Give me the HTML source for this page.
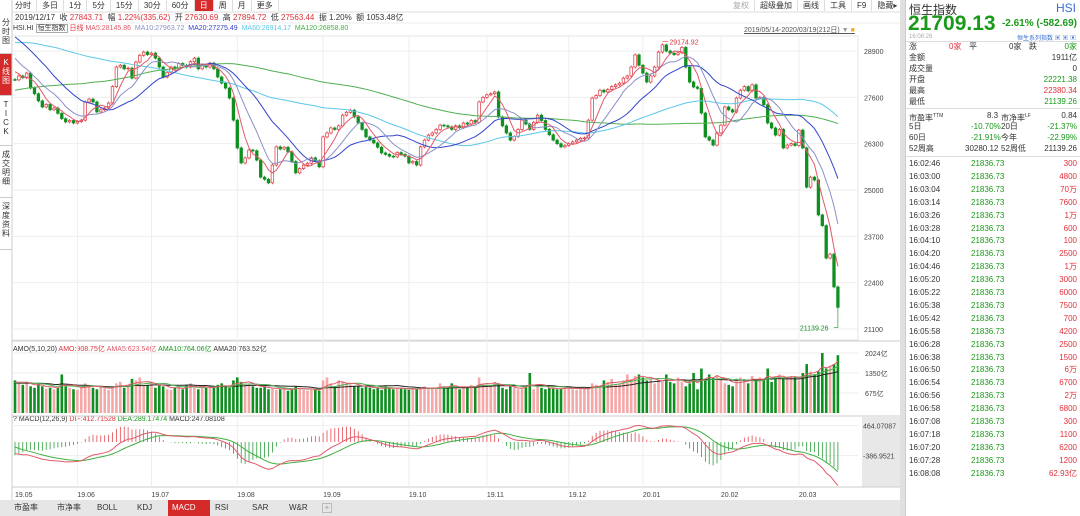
<!DOCTYPE html>
<html><head><meta charset="utf-8">
<style>
*{margin:0;padding:0;box-sizing:border-box}
body{width:1080px;height:516px;overflow:hidden;background:#fff;font-family:"Liberation Sans","Noto Sans CJK SC",sans-serif;font-size:8px;color:#333;position:relative}
.abs{position:absolute;white-space:nowrap}
.tb span{display:inline-block;padding:0 5px;line-height:11px;border-right:1px solid #ddd}
#rp{position:absolute;left:905px;top:0;width:175px;height:516px;background:#fff;border-left:1px solid #ccc}
.row{position:absolute;left:3px;right:3px;height:12px;line-height:12px;font-size:8px}
.g{color:#1a9a1a}.r{color:#e0303a}
.side div{position:absolute;left:0;width:12px;font-size:8px;line-height:9px;text-align:center;border-bottom:1px solid #ccc}
</style></head><body>
<div class="abs tb" style="left:10px;top:0;height:12px;font-size:8px">
<span>分时</span><span>多日</span><span>1分</span><span>5分</span><span>15分</span><span>30分</span><span>60分</span><span style="background:#d42a2a;color:#fff">日</span><span>周</span><span>月</span><span>更多</span></div>
<div class="abs tb" style="left:728px;top:0;font-size:8px">
<span style="color:#aaa">复权</span><span>超级叠加</span><span>画线</span><span>工具</span><span>F9</span><span>隐藏▸</span></div>
<div class="abs" style="left:15px;top:13px;font-size:8px;line-height:10px">2019/12/17 &nbsp;收 <span class="r">27843.71</span> &nbsp;幅 <span class="r">1.22%(335.62)</span> &nbsp;开 <span class="r">27630.69</span> &nbsp;高 <span class="r">27894.72</span> &nbsp;低 <span class="r">27563.44</span> &nbsp;振 1.20% &nbsp;额 1053.48亿</div>
<div class="abs" style="left:13px;top:24px;font-size:7px;line-height:9px">HSI.HI <span style="border:1px solid #aaa;padding:0 1px">恒生指数</span> <span class="r">日线</span> <span style="color:#e05a6a">MA5:28145.86</span> &nbsp;<span style="color:#8890c8">MA10:27963.72</span> &nbsp;<span style="color:#3344cc">MA20:27275.49</span> &nbsp;<span style="color:#5bc8e8">MA60:26914.17</span> &nbsp;<span style="color:#40b040">MA120:26858.80</span></div>
<div class="abs" style="left:744px;top:25px;font-size:7px;text-decoration:underline;color:#555">2019/05/14-2020/03/19(212日) <span style="color:#999">▼</span> <span style="color:#f0b020">■</span></div>
<div class="abs" style="left:13px;top:344px;font-size:7px">AMO(5,10,20) <span class="r">AMO:908.75亿</span> <span style="color:#e05a6a">AMA5:623.54亿</span> <span class="g">AMA10:764.06亿</span> AMA20:763.52亿</div>
<div class="abs" style="left:13px;top:416px;font-size:7px">? MACD(12,26,9) <span class="r">DIF:412.71528</span> <span class="g">DEA:289.17474</span> MACD:247.08108</div>

<div class="side">
<div style="top:14px;height:40px;padding-top:4px">分<br>时<br>图</div>
<div style="top:54px;height:42px;background:#d42a2a;color:#fff;padding-top:4px">K<br>线<br>图</div>
<div style="top:96px;height:50px;padding-top:4px">T<br>I<br>C<br>K</div>
<div style="top:146px;height:52px;padding-top:4px">成<br>交<br>明<br>细</div>
<div style="top:198px;height:52px;padding-top:4px">深<br>度<br>资<br>料</div>
</div>

<svg id="ch" style="position:absolute;left:0;top:0" width="905" height="516"></svg>

<div class="abs" style="left:0;top:500px;width:900px;height:16px;background:#e6e6e6;font-size:8px;line-height:16px">
<span class="abs" style="left:14px">市盈率</span>
<span class="abs" style="left:57px">市净率</span>
<span class="abs" style="left:97px">BOLL</span>
<span class="abs" style="left:137px">KDJ</span>
<span class="abs" style="left:168px;width:42px;background:#d42a2a;color:#fff;padding-left:4px">MACD</span>
<span class="abs" style="left:215px">RSI</span>
<span class="abs" style="left:252px">SAR</span>
<span class="abs" style="left:289px">W&amp;R</span>
<span class="abs" style="left:322px;top:3px;width:10px;height:10px;border:1px solid #bbb;line-height:8px;text-align:center;color:#999">+</span>
</div>

<div id="rp">
<div class="abs" style="left:3px;top:1px;font-size:12px">恒生指数</div>
<div class="abs" style="right:4px;top:1px;font-size:12px;color:#3a6fd0">HSI</div>
<div class="abs g" style="left:2px;top:12px;font-size:21px;font-weight:bold">21709.13</div>
<div class="abs g" style="right:3px;top:18px;font-size:10px;font-weight:bold">-2.61% (-582.69)</div>
<div class="abs" style="left:3px;top:34px;font-size:6px;color:#aaa">16:08:26</div>
<div class="abs" style="right:4px;top:33px;font-size:6px;color:#3a6fd0">恒生系列指数 ▣ ▣ ▣</div>
<div style="position:absolute;left:0;right:0;top:41px;height:1px;background:#ddd"></div>
<div class="row" style="top:41px"><span>涨</span><span class="abs r" style="left:40px">0家</span><span class="abs" style="left:60px">平</span><span class="abs" style="left:100px">0家</span><span class="abs" style="left:120px">跌</span><span class="abs g" style="right:0">0家</span></div>
<div class="row" style="top:52px">金额<span class="abs" style="right:0">1911亿</span></div>
<div class="row" style="top:63px">成交量<span class="abs" style="right:0">0</span></div>
<div class="row" style="top:74px">开盘<span class="abs g" style="right:0">22221.38</span></div>
<div class="row" style="top:85px">最高<span class="abs r" style="right:0">22380.34</span></div>
<div class="row" style="top:96px">最低<span class="abs g" style="right:0">21139.26</span></div>
<div style="position:absolute;left:0;right:0;top:108px;height:1px;background:#ddd"></div>
<div class="row" style="top:110px">市盈率<sup style="font-size:5px">TTM</sup><span class="abs" style="left:78px">8.3</span><span class="abs" style="left:92px">市净率<sup style="font-size:5px">LF</sup></span><span class="abs" style="right:0">0.84</span></div>
<div class="row" style="top:121px">5日<span class="abs g" style="left:62px">-10.70%</span><span class="abs" style="left:92px">20日</span><span class="abs g" style="right:0">-21.37%</span></div>
<div class="row" style="top:132px">60日<span class="abs g" style="left:62px">-21.91%</span><span class="abs" style="left:92px">今年</span><span class="abs g" style="right:0">-22.99%</span></div>
<div class="row" style="top:143px">52周高<span class="abs" style="left:56px">30280.12</span><span class="abs" style="left:92px">52周低</span><span class="abs" style="right:0">21139.26</span></div>
<div style="position:absolute;left:0;right:0;top:156px;height:1px;background:#ddd"></div>
<div id="ticks"></div>
</div>

<script>
const tickTimes=["16:02:46","16:03:00","16:03:04","16:03:14","16:03:26","16:03:28","16:04:10","16:04:20","16:04:46","16:05:20","16:05:22","16:05:38","16:05:42","16:05:58","16:06:28","16:06:38","16:06:50","16:06:54","16:06:56","16:06:58","16:07:08","16:07:18","16:07:20","16:07:28","16:08:08"];
const tickVols=["300","4800","70万","7600","1万","600","100","2500","1万","3000","6000","7500","700","4200","2500","1500","6万","6700","2万","6800","300","1100","6200","1200","62.93亿"];
const tp=document.getElementById('ticks');
tickTimes.forEach((t,k)=>{
 const d=document.createElement('div');d.className='row';d.style.top=(158+k*12.9)+'px';
 
 
 d.innerHTML=t+'<span class="abs g" style="left:62px">21836.73</span><span class="abs r" style="right:0">'+tickVols[k]+'</span>';
 tp.appendChild(d);
});
</script>
<script>
const priorCloses=[26000,26100,25900,26200,26300,26100,25950,26050,26200,26300,
26150,26000,25900,26050,26100,26250,26300,26150,26000,25850,
25900,26000,26100,25800,25700,25900,26050,26100,25950,25850,
25600,25300,25100,25500,25800,26100,26300,26500,26700,26600,
26400,26600,26800,27000,26900,27100,27300,27200,27000,27100,
27300,27500,27600,27400,27300,27500,27700,27900,27800,27950,
28000,28100,28200,28400,28300,28500,28600,28800,28700,28600,
28500,28700,28900,29000,28800,28700,28600,28900,29100,29000,
28800,28600,28500,28700,28900,29100,29200,29300,29500,29400,
29600,29700,29800,29900,29800,29700,29900,30000,29900,29800,
29700,29900,30100,30200,30000,29900,29800,29700,29600,29800,
29900,29400,29200,29100,28900,28800,28500,28600,28300,28100];
const closes=[28090,28200,28150,28280,27860,27700,27500,27330,27400,27250,
27300,27150,27000,26910,26950,26880,26920,26960,27470,27550,
27470,27190,27250,27300,27440,27900,28450,28500,28400,28420,
28140,28590,28780,28870,28800,28840,28700,28450,28170,28300,
28450,28400,28550,28500,28450,28600,28700,28400,28500,28450,
28560,28400,28170,28000,27860,27580,26960,26180,25760,25900,
26120,26100,25840,25360,25300,25200,25700,26210,26150,26200,
26070,25800,25480,25600,25700,25750,25900,25820,25650,26490,
26600,26740,26700,26800,27100,27180,27240,27050,26880,26700,
26490,26400,26320,26200,26040,26000,25950,25930,26050,26000,
25950,25760,25800,25700,26210,26400,26540,26600,26700,26820,
26800,26770,26700,26800,26750,26880,26850,26950,26900,27470,
27600,27670,27700,27750,27050,26800,26600,26400,26500,26700,
26960,26850,26700,26900,27100,26950,26700,26550,26400,26300,
26210,26250,26300,26350,26400,26450,26460,26960,27580,27650,
27800,27750,27820,27900,27950,28000,28140,28200,28450,28790,
28500,28280,28030,28200,28450,28870,29070,28900,28840,28800,
28850,29000,28450,28030,27890,27850,27160,26490,26400,26260,
26600,26820,27330,27250,27190,27580,27800,27900,27780,27950,
27580,27600,27390,26880,26740,26540,26700,26180,26260,26300,
26250,26680,26180,25080,25360,25280,24300,24000,23090,23200,
22280,21709];
const amounts=[1100,1000,950,1050,900,850,1000,900,820,850,800,850,1300,900,850,800,780,900,1000,950,
850,800,900,850,780,900,1000,1050,850,900,1150,1100,1200,900,950,1050,850,950,900,800,
780,850,900,800,950,1000,850,800,900,850,900,850,950,1000,900,850,1100,1200,1050,950,
950,900,850,850,900,800,820,780,800,850,750,800,900,850,780,760,780,800,750,1100,
1200,1000,900,1100,1050,1000,950,900,900,850,900,850,800,850,780,900,850,800,850,820,
800,780,830,800,850,900,800,850,820,1000,900,850,1000,850,800,900,850,950,880,1200,
1000,950,900,1050,1000,850,800,900,850,800,850,900,1350,800,900,850,800,850,820,800,
820,900,850,800,780,850,820,850,1000,950,900,1100,1050,1150,950,1000,1100,1300,1150,1250,
1300,1200,1100,1150,1000,1100,1050,1300,1050,1000,1200,1050,900,1000,1350,800,1500,1100,1300,1200,
1250,1150,1000,950,900,1100,1200,1150,1000,1250,1100,1200,1150,1500,1050,1200,1300,1150,1200,1250,
1200,1100,1350,1650,1400,1300,1400,2024,1500,1600,1650,1950];
const priorAmounts=[950,1000,900,1050,980,1020,900,950,1000,1050,1100,950,900,1000,1050,1100,1000,950,1050,1100];
const priceTicks=[28900,27600,26300,25000,23700,22400,21100];
const volTicks=[2024,1350,675];
const monthLabels=["19.05","19.06","19.07","19.08","19.09","19.10","19.11","19.12","20.01","20.02","20.03"];
const monthStartIdx=[0,16,35,57,79,101,121,142,161,181,201];
const macdTicks=[464.07087,-386.9521];

const NS='http://www.w3.org/2000/svg';
const svg=document.getElementById('ch');
function el(tag,attrs,parent){const e=document.createElementNS(NS,tag);for(const k in attrs)e.setAttribute(k,attrs[k]);(parent||svg).appendChild(e);return e;}
const xAt=i=>15+i*3.9;
const yP=p=>51+(28900-p)*0.03564;
const yV=v=>413-v*0.02964;
const yM=v=>442-v/28.4;
const RED='#e0303a',GRN='#0f8f1f';

el('rect',{x:12,y:36,width:846,height:304,fill:'#fff',stroke:'#e4e4e4'});
el('line',{x1:12,y1:341,x2:900,y2:341,stroke:'#ccc'});
el('line',{x1:12,y1:416,x2:900,y2:416,stroke:'#ccc'});
el('rect',{x:862,y:417,width:38,height:70,fill:'#e8e8e8'});
el('line',{x1:12,y1:487,x2:900,y2:487,stroke:'#ccc'});
el('rect',{x:900,y:0,width:5,height:516,fill:'#e0e0e0'});
el('line',{x1:12,y1:12,x2:900,y2:12,stroke:'#ddd'});
el('line',{x1:12,y1:23,x2:900,y2:23,stroke:'#eee'});
el('line',{x1:12,y1:0,x2:12,y2:500,stroke:'#ccc'});
priceTicks.forEach(p=>{const g=el('line',{x1:12,y1:yP(p),x2:858,y2:yP(p),stroke:'#eee'});
 
 const t=el('text',{x:864,y:yP(p)+3,'font-size':7,fill:'#444'});t.textContent=p;
 });
volTicks.forEach(v=>{el('line',{x1:12,y1:yV(v),x2:858,y2:yV(v),stroke:'#eee'});
 const t=el('text',{x:865,y:yV(v)+3,'font-size':7,fill:'#444'});t.textContent=v+'亿';
 });
macdTicks.forEach(v=>{el('line',{x1:12,y1:yM(v),x2:858,y2:yM(v),stroke:'#eee'});
 const t=el('text',{x:863,y:yM(v)+3,'font-size':7,fill:'#444'});t.textContent=v;
 });
monthStartIdx.forEach((ix,k)=>{const x=xAt(ix);
 if(k>0){el('line',{x1:x,y1:36,x2:x,y2:487,stroke:'#eee'});}
 const t=el('text',{x:x,y:497,'font-size':7,fill:'#444'});t.textContent=monthLabels[k];
 });

const allC=priorCloses.concat(closes), P=priorCloses.length;
const allA=priorAmounts.concat(amounts), PA=priorAmounts.length;
function ma(arr,n,i){let s=0,c=0;for(let j=Math.max(0,i-n+1);j<=i;j++){s+=arr[j];c++;}return s/c;}
function poly(arr,fy,color,name){const pts=arr.map((v,i)=>xAt(i)+','+fy(v).toFixed(1)).join(' ');
 const p=el('polyline',{points:pts,fill:'none',stroke:color,'stroke-width':1});return p;}
closes.forEach((c,i)=>{const o=allC[P+i-1];const up=c>=o;const x=xAt(i)-1.3;
 const y1=yP(Math.max(o,c)),y2=yP(Math.min(o,c));
 const hi=Math.max(o,c)+40,lo=Math.min(o,c)-40;
 el('line',{x1:xAt(i),y1:yP(hi),x2:xAt(i),y2:yP(lo),stroke:up?RED:GRN,'stroke-width':0.8});
 const r=el('rect',{x:x,y:y1,width:2.6,height:Math.max(0.8,y2-y1),fill:up?'#fff':GRN,stroke:up?RED:GRN,'stroke-width':0.7});
 
});
const mk=n=>closes.map((v,i)=>ma(allC,n,P+i));
poly(mk(120),yP,'#50b050','ma120-line');
poly(mk(60),yP,'#5bc8e8','ma60-line');
poly(mk(20),yP,'#3344cc','ma20-line');
poly(mk(10),yP,'#8a90c8','ma10-line');
poly(mk(5),yP,'#e05a6a','ma5-line');
let mxI=0,mnI=0;closes.forEach((v,i)=>{if(v>closes[mxI])mxI=i;if(v<closes[mnI])mnI=i;});
el('line',{x1:xAt(mxI),y1:yP(closes[mxI]+100),x2:xAt(mxI)+6,y2:yP(closes[mxI]+100),stroke:RED,'stroke-width':0.6});
let t=el('text',{x:xAt(mxI)+7,y:yP(closes[mxI]+100)+3,'font-size':7,fill:RED});t.textContent='29174.92';
el('line',{x1:xAt(mnI),y1:yP(21139),x2:xAt(mnI)-4,y2:yP(21139),stroke:GRN,'stroke-width':0.6});
el('line',{x1:xAt(mnI),y1:yP(21139),x2:xAt(mnI),y2:yP(closes[mnI]),stroke:GRN,'stroke-width':0.6});
t=el('text',{x:xAt(mnI)-38,y:yP(21139)+3,'font-size':7,fill:GRN});t.textContent='21139.26';

amounts.forEach((v,i)=>{const o=allC[P+i-1];const up=closes[i]>=o;
 const r=el('rect',{x:xAt(i)-1.3,y:yV(v),width:2.6,height:413-yV(v),fill:up?'#f5a8a8':GRN});
 });
poly(amounts.map((v,i)=>ma(allA,20,PA+i)),yV,'#222','ama20-line');
poly(amounts.map((v,i)=>ma(allA,10,PA+i)),yV,'#50b050','ama10-line');
poly(amounts.map((v,i)=>ma(allA,5,PA+i)),yV,'#e05a6a','ama5-line');

let e12=allC[0],e26=allC[0],dea=0;const difAll=[],deaAll=[];
allC.forEach(c=>{e12=e12+(c-e12)*2/13;e26=e26+(c-e26)*2/27;const d=e12-e26;dea=dea+(d-dea)*2/10;difAll.push(d);deaAll.push(dea);});
const dif=difAll.slice(P),deaA=deaAll.slice(P);
dif.forEach((d,i)=>{const h=2*(d-deaA[i]);const l=el('line',{x1:xAt(i),y1:yM(0),x2:xAt(i),y2:Math.max(420,Math.min(486,yM(h))),stroke:h>=0?RED:GRN,'stroke-width':0.7});
 });
const clipM=v=>Math.max(420,Math.min(486,yM(v)));
poly(deaA,clipM,'#40b040','dea-line');
poly(dif,clipM,'#e05a6a','dif-line');
</script>
</body></html>
